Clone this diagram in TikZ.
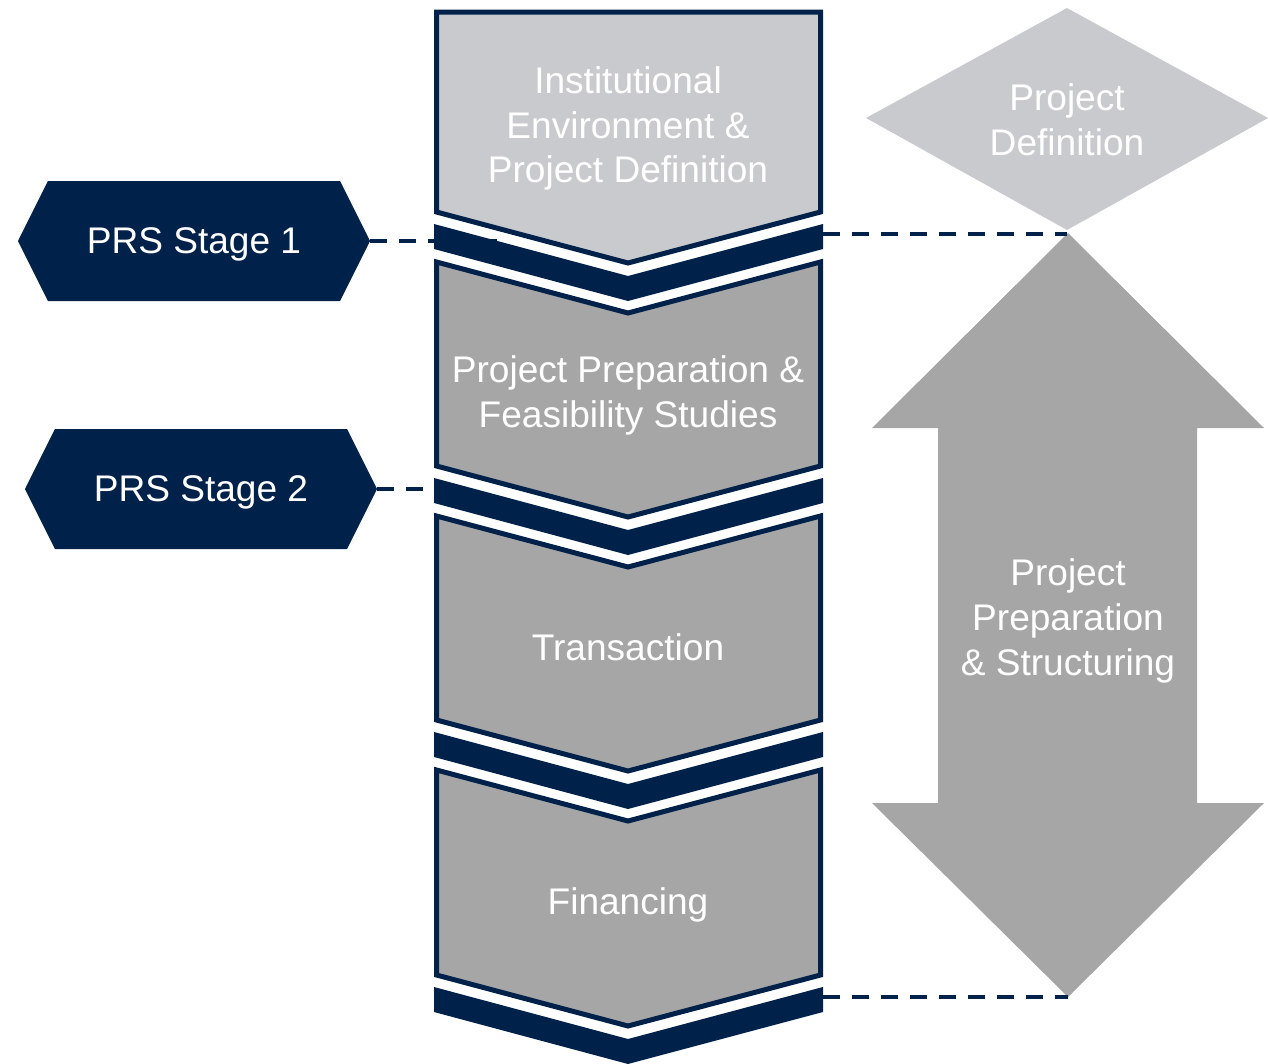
\documentclass[tikz,border=0pt]{standalone}
\usepackage{fontspec}
\setmainfont{Liberation Sans}
\usetikzlibrary{shapes.symbols}
\definecolor{navy}{HTML}{00224A}
\definecolor{lgray}{HTML}{C9CACE}
\definecolor{mgray}{HTML}{A6A6A6}
\tikzset{
  boxshape/.style={fill=mgray,draw=navy,line width=3.75pt,line join=miter},
  band/.style={fill=navy,draw=none},
  lbl/.style={text=white,align=center,font=\fontsize{27.8}{33.5}\selectfont},
  conn/.style={draw=navy,line width=3pt,dash pattern=on 12.75pt off 9pt},
  hexa/.style={signal,signal to=east and west,signal pointer angle=127,fill=navy,draw=none,
    minimum width=264pt,minimum height=90pt,inner sep=0pt,text depth=0pt,text=white,font=\fontsize{27.8}{33.5}\selectfont}
}
\begin{document}
\begin{tikzpicture}[x=0.75pt,y=-0.75pt]
\useasboundingbox (0,0) rectangle (1268,1064);
% diamond
\path[fill=lgray] (866,118) -- (1067,8) -- (1268,118) -- (1067,230) -- cycle;
\node[lbl] (pdef) at (1067,119.5) {Project\\Definition};
% double arrow
\path[fill=mgray] (1068,233) -- (1264,428) -- (1197,428) -- (1197,803) -- (1264,803)
  -- (1068,997) -- (872,803) -- (938,803) -- (938,428) -- (872,428) -- cycle;
\node[lbl] (pps) at (1068,621) {Project\\Preparation\\\& Structuring};
\coordinate (arrtop) at (1067,234);
\coordinate (arrbot) at (1068,997);
% boxes
\path[boxshape,fill=lgray] (436.5,12) -- (820.5,12) -- (820.5,212) -- (628,263) -- (436.5,212) -- cycle;
\path[band] (434,224) -- (628,276) -- (823,224) -- (823,249) -- (628,301) -- (434,249) -- cycle;
\path[boxshape] (436.5,262) -- (628,313) -- (820.5,262) -- (820.5,466) -- (628,517) -- (436.5,466) -- cycle;
\path[band] (434,478) -- (628,530) -- (823,478) -- (823,503) -- (628,555) -- (434,503) -- cycle;
\path[boxshape] (436.5,516) -- (628,567) -- (820.5,516) -- (820.5,720) -- (628,771) -- (436.5,720) -- cycle;
\path[band] (434,732) -- (628,784) -- (823,732) -- (823,757) -- (628,809) -- (434,757) -- cycle;
\path[boxshape] (436.5,770) -- (628,821) -- (820.5,770) -- (820.5,975) -- (628,1026) -- (436.5,975) -- cycle;
\path[band] (434,987) -- (628,1039) -- (823,987) -- (823,1012) -- (628,1064) -- (434,1012) -- cycle;
\node[lbl] (s1) at (628,128.5) {Institutional\\Environment \&\\Project Definition};
\node[lbl] (s2) at (628,395.5) {Project Preparation \&\\Feasibility Studies};
\node[lbl] (s3) at (628,647) {Transaction};
\node[lbl] (s4) at (628,905) {Financing};
\coordinate (b1r) at (823,234);
\coordinate (b4r) at (823,997);
\coordinate (b1l) at (497,241);
\coordinate (b2l) at (440,489);
% PRS hexagons
\node[hexa] (prs1) at (194,241) {PRS Stage 1};
\node[hexa] (prs2) at (201,489) {PRS Stage 2};
% connectors
\draw[conn] (prs1.east) -- (b1l);
\draw[conn] (prs2.east) -- (b2l);
\draw[conn] (b1r) -- (arrtop);
\draw[conn] (b4r) -- (arrbot);
\end{tikzpicture}
\end{document}
